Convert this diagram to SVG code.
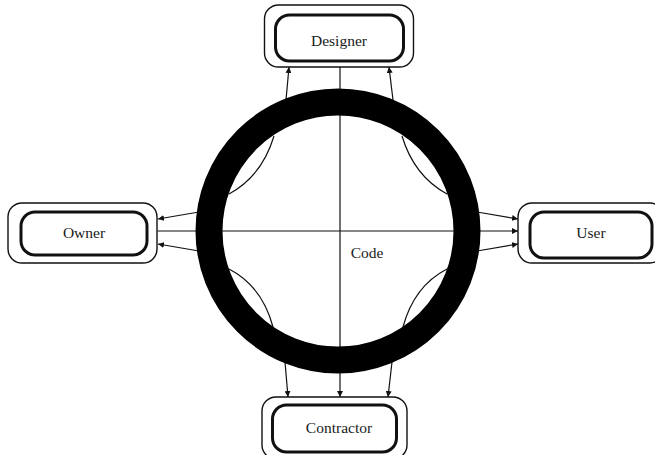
<svg xmlns="http://www.w3.org/2000/svg" width="655" height="455" viewBox="0 0 655 455">
  <style>
    .outer { fill: #fff; stroke: #111; stroke-width: 1.4; }
    .inner { fill: none; stroke: #111; stroke-width: 3; }
    .label { font-family: "Liberation Serif", "Times New Roman", serif; font-size: 15.5px; fill: #1a1a1a; text-anchor: middle; }
    .flow { fill: none; stroke: #111; stroke-width: 1.2; }
    .lens { fill: none; stroke: #111; stroke-width: 1.2; }
  </style>
  <defs>
    <marker id="arrow" viewBox="0 0 10 10" refX="10" refY="5" markerWidth="6" markerHeight="6" markerUnits="userSpaceOnUse" orient="auto">
      <path d="M0,0 L10,5 L0,10 z" fill="#111"/>
    </marker>
  </defs>
  <rect width="655" height="455" fill="#fff"/>

  <g id="connectors">
    <!-- axis lines through the code ring -->
    <line class="flow" x1="158" y1="231" x2="518" y2="231" marker-start="url(#arrow)" marker-end="url(#arrow)"/>
    <line class="flow" x1="340" y1="67" x2="340" y2="397" marker-start="url(#arrow)" marker-end="url(#arrow)"/>
    <!-- up to Designer -->
    <line class="flow" x1="286" y1="100" x2="289" y2="67" marker-end="url(#arrow)"/>
    <line class="flow" x1="393" y1="100" x2="389" y2="67" marker-end="url(#arrow)"/>
    <!-- down to Contractor -->
    <line class="flow" x1="285" y1="362" x2="288" y2="397" marker-end="url(#arrow)"/>
    <line class="flow" x1="392" y1="362" x2="388" y2="397" marker-end="url(#arrow)"/>
    <!-- left to Owner -->
    <line class="flow" x1="199" y1="212" x2="158" y2="219" marker-end="url(#arrow)"/>
    <line class="flow" x1="199" y1="251" x2="158" y2="244" marker-end="url(#arrow)"/>
    <!-- right to User -->
    <line class="flow" x1="477" y1="212" x2="518" y2="219" marker-end="url(#arrow)"/>
    <line class="flow" x1="477" y1="251" x2="518" y2="244" marker-end="url(#arrow)"/>
  </g>

  <g id="code">
    <circle cx="338" cy="231" r="129" fill="none" stroke="#000" stroke-width="27"/>
    <!-- lens curves on the inner rim -->
    <path class="lens" d="M274,136 Q262,176 229,194"/>
    <path class="lens" d="M402,136 Q414,176 447,194"/>
    <path class="lens" d="M229,269 Q262,286 273,327"/>
    <path class="lens" d="M447,269 Q414,286 403,327"/>
    <text class="label" x="367" y="258">Code</text>
  </g>

  <g id="designer">
    <rect class="outer" x="264.5" y="5" width="149" height="62" rx="14"/>
    <rect class="inner" x="275.5" y="15" width="128" height="46" rx="14"/>
    <text class="label" x="339" y="46">Designer</text>
  </g>

  <g id="owner">
    <rect class="outer" x="8" y="203" width="149" height="60" rx="14"/>
    <rect class="inner" x="21" y="212" width="126" height="43" rx="14"/>
    <text class="label" x="84" y="238">Owner</text>
  </g>

  <g id="user">
    <rect class="outer" x="518" y="203" width="146" height="60" rx="14"/>
    <rect class="inner" x="530" y="212" width="122" height="46" rx="14"/>
    <text class="label" x="591" y="238">User</text>
  </g>

  <g id="contractor">
    <rect class="outer" x="262" y="397" width="145" height="62" rx="14"/>
    <rect class="inner" x="272.5" y="405" width="124" height="47" rx="14"/>
    <text class="label" x="339" y="433">Contractor</text>
  </g>
</svg>
